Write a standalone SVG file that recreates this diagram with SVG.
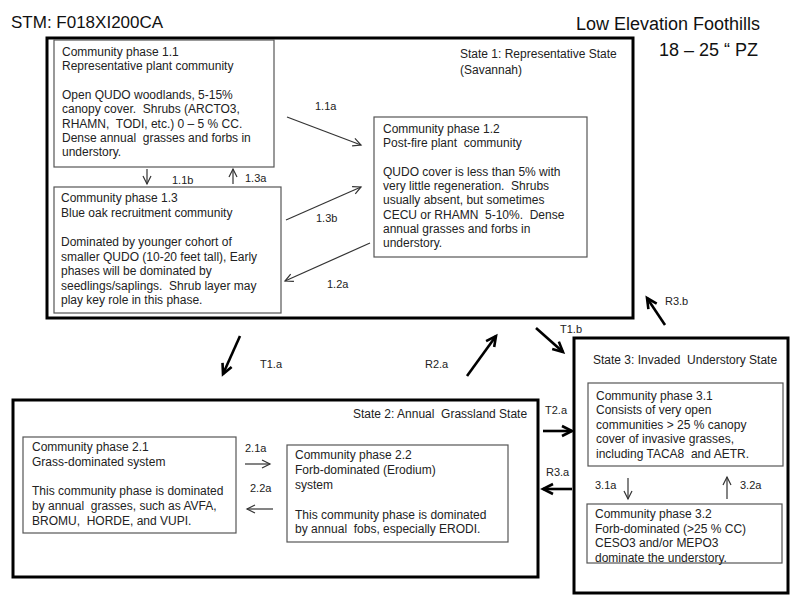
<svg xmlns="http://www.w3.org/2000/svg" width="800" height="600" viewBox="0 0 800 600">
<defs>
<style>
.t{font-family:"Liberation Sans",Arial,sans-serif;font-size:12px;fill:#222;white-space:pre}
.lb{font-family:"Liberation Sans",Arial,sans-serif;font-size:11px;fill:#222}
.hd{font-family:"Liberation Sans",Arial,sans-serif;fill:#111}
.state{fill:none;stroke:#000;stroke-width:3}
.phase{fill:#fff;stroke:#555;stroke-width:1.2}
.thin{stroke:#333;stroke-width:1.2;fill:none;marker-end:url(#ah)}
.thick{stroke:#000;stroke-width:2.6;fill:none;marker-end:url(#ahb)}
</style>
<marker id="ah" markerUnits="userSpaceOnUse" markerWidth="12" markerHeight="12" refX="9" refY="5" orient="auto" viewBox="0 0 12 10">
<path d="M1,1 L9,5 L1,9" fill="none" stroke="#333" stroke-width="1.2"/>
</marker>
<marker id="ahb" markerUnits="userSpaceOnUse" markerWidth="14" markerHeight="14" refX="11" refY="6" orient="auto" viewBox="0 0 14 12">
<path d="M1,1 L11,6 L1,11" fill="none" stroke="#000" stroke-width="2.6"/>
</marker>
</defs>
<rect width="800" height="600" fill="#fff"/>

<text class="hd" x="11" y="28" font-size="17">STM: F018XI200CA</text>
<text class="hd" x="576" y="30" font-size="18">Low Elevation Foothills</text>
<text class="hd" x="659" y="56" font-size="18">18 – 25 “ PZ</text>

<g id="state1">
<rect class="state" x="47" y="38" width="586" height="280"/>
<text class="t" x="460" y="58">State 1: Representative State</text>
<text class="t" x="460" y="74">(Savannah)</text>
</g>
<g id="phase11">
<rect class="phase" x="54" y="40" width="220" height="127"/>
<text class="t" x="62" y="56">Community phase 1.1</text>
<text class="t" x="62" y="70">Representative plant community</text>
<text class="t" x="62" y="99">Open QUDO woodlands, 5-15%</text>
<text class="t" x="62" y="113">canopy cover.  Shrubs (ARCTO3,</text>
<text class="t" x="62" y="128">RHAMN,  TODI, etc.) 0 – 5 % CC.</text>
<text class="t" x="62" y="142">Dense annual  grasses and forbs in</text>
<text class="t" x="62" y="156">understory.</text>
</g>
<g id="phase12">
<rect class="phase" x="374" y="117" width="213" height="140"/>
<text class="t" x="383" y="133">Community phase 1.2</text>
<text class="t" x="383" y="147">Post-fire plant  community</text>
<text class="t" x="383" y="176">QUDO cover is less than 5% with</text>
<text class="t" x="383" y="190">very little regeneration.  Shrubs</text>
<text class="t" x="383" y="204">usually absent, but sometimes</text>
<text class="t" x="383" y="219">CECU or RHAMN  5-10%.  Dense</text>
<text class="t" x="383" y="233">annual grasses and forbs in</text>
<text class="t" x="383" y="247">understory.</text>
</g>
<g id="phase13">
<rect class="phase" x="54" y="187" width="227" height="126"/>
<text class="t" x="61" y="202">Community phase 1.3</text>
<text class="t" x="61" y="217">Blue oak recruitment community</text>
<text class="t" x="61" y="246">Dominated by younger cohort of</text>
<text class="t" x="61" y="261">smaller QUDO (10-20 feet tall), Early</text>
<text class="t" x="61" y="275">phases will be dominated by</text>
<text class="t" x="61" y="290">seedlings/saplings.  Shrub layer may</text>
<text class="t" x="61" y="304">play key role in this phase.</text>
</g>

<g id="state2">
<rect class="state" x="13" y="400" width="525" height="177"/>
<text class="t" x="353" y="418">State 2: Annual  Grassland State</text>
</g>
<g id="phase21">
<rect class="phase" x="23" y="437" width="213" height="96"/>
<text class="t" x="32" y="451">Community phase 2.1</text>
<text class="t" x="32" y="466">Grass-dominated system</text>
<text class="t" x="32" y="495">This community phase is dominated</text>
<text class="t" x="32" y="510">by annual  grasses, such as AVFA,</text>
<text class="t" x="32" y="525">BROMU,  HORDE, and VUPI.</text>
</g>
<g id="phase22">
<rect class="phase" x="287" y="445" width="221" height="97"/>
<text class="t" x="295" y="459">Community phase 2.2</text>
<text class="t" x="295" y="474">Forb-dominated (Erodium)</text>
<text class="t" x="295" y="489">system</text>
<text class="t" x="295" y="519">This community phase is dominated</text>
<text class="t" x="295" y="533">by annual  fobs, especially ERODI.</text>
</g>

<g id="state3">
<rect class="state" x="574" y="338" width="214" height="255"/>
<text class="t" x="593" y="364">State 3: Invaded  Understory State</text>
</g>
<g id="phase31">
<rect class="phase" x="588" y="383" width="195" height="83"/>
<text class="t" x="596" y="400">Community phase 3.1</text>
<text class="t" x="596" y="414">Consists of very open</text>
<text class="t" x="596" y="429">communities &gt; 25 % canopy</text>
<text class="t" x="596" y="443">cover of invasive grasses,</text>
<text class="t" x="596" y="458">including TACA8  and AETR.</text>
</g>
<g id="phase32">
<rect class="phase" x="587" y="504" width="195" height="59"/>
<text class="t" x="595" y="518">Community phase 3.2</text>
<text class="t" x="595" y="533">Forb-dominated (&gt;25 % CC)</text>
<text class="t" x="595" y="547">CESO3 and/or MEPO3</text>
<text class="t" x="595" y="562">dominate the understory.</text>
</g>

<g id="connectors">
<line class="thin" x1="287" y1="117" x2="361" y2="145"/>
<line class="thin" x1="147" y1="169" x2="147" y2="184"/>
<line class="thin" x1="233" y1="184" x2="233" y2="169"/>
<line class="thin" x1="286" y1="220" x2="361" y2="187"/>
<line class="thin" x1="370" y1="243" x2="285" y2="281"/>
<line class="thin" x1="245" y1="464" x2="270" y2="464"/>
<line class="thin" x1="273" y1="509" x2="247" y2="509"/>
<line class="thin" x1="628" y1="478" x2="628" y2="499"/>
<line class="thin" x1="727" y1="499" x2="727" y2="477"/>
<line class="thick" x1="240" y1="336" x2="223" y2="374"/>
<line class="thick" x1="467" y1="376" x2="496" y2="336"/>
<line class="thick" x1="536" y1="328" x2="563" y2="352"/>
<line class="thick" x1="543" y1="431" x2="572" y2="431"/>
<line class="thick" x1="572" y1="489" x2="543" y2="489"/>
<line class="thick" x1="665" y1="325" x2="647" y2="298"/>
<text class="lb" x="315" y="110">1.1a</text>
<text class="lb" x="172" y="184">1.1b</text>
<text class="lb" x="245" y="182">1.3a</text>
<text class="lb" x="316" y="222">1.3b</text>
<text class="lb" x="327" y="288">1.2a</text>
<text class="lb" x="245" y="452">2.1a</text>
<text class="lb" x="250" y="492">2.2a</text>
<text class="lb" x="595" y="489">3.1a</text>
<text class="lb" x="740" y="489">3.2a</text>
<text class="lb" x="260" y="368">T1.a</text>
<text class="lb" x="425" y="368">R2.a</text>
<text class="lb" x="560" y="333">T1.b</text>
<text class="lb" x="545" y="414">T2.a</text>
<text class="lb" x="546" y="476">R3.a</text>
<text class="lb" x="665" y="305">R3.b</text>
</g>
</svg>
